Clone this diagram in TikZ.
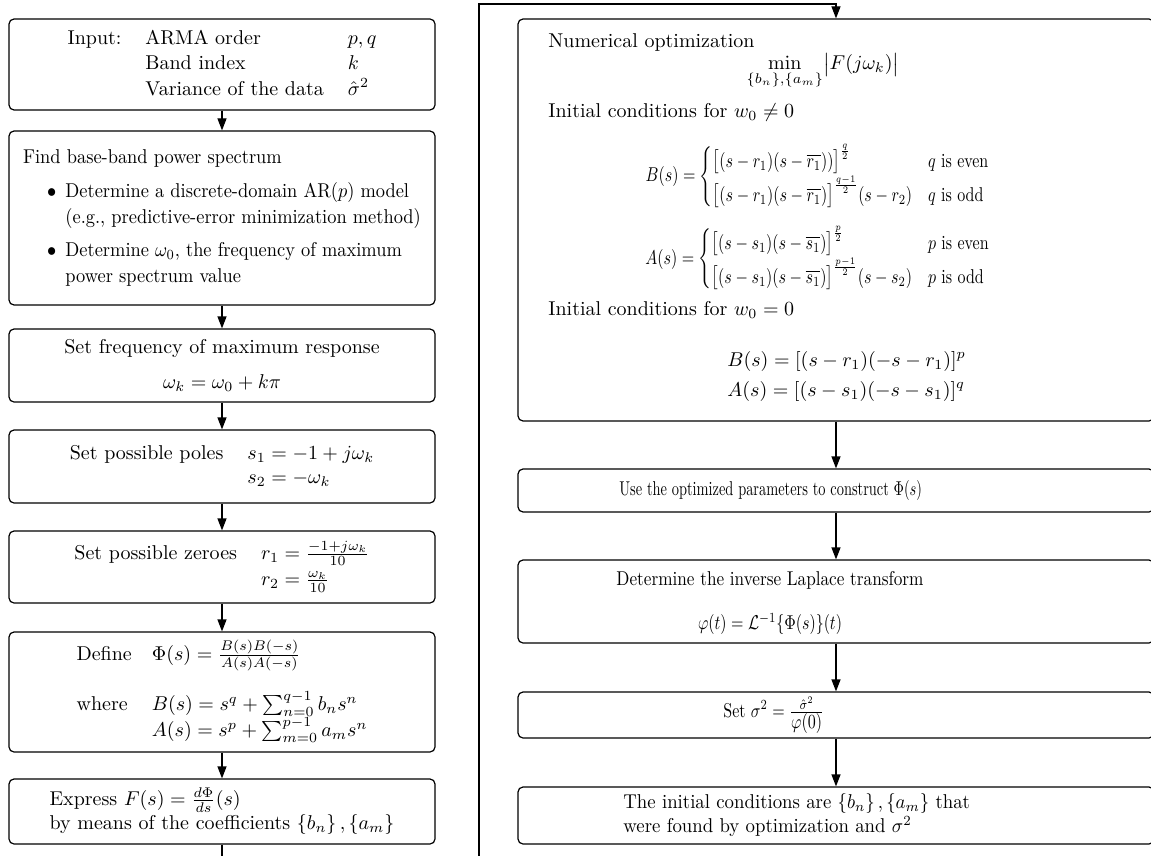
\documentclass[tikz,border=0pt]{standalone}
\usepackage{amsmath,amssymb}
\usepackage{graphicx}
\usetikzlibrary{arrows.meta,positioning,calc}
\newcommand{\squeezed}[2][0.8]{\scalebox{#1}[1]{#2}}

\begin{document}
\begin{tikzpicture}[x=0.5pt,y=-0.5pt,
    stage/.style={draw,rounded corners=2.5pt,line width=0.6pt,inner sep=0pt,
      align=center},
    lstage/.style={stage,minimum width=213pt},
    rstage/.style={stage,minimum width=318pt},
    txt/.style={inner sep=0pt},
    flow/.style={-{Triangle[length=6pt,width=4.5pt]},line width=0.6pt}
  ]
  \useasboundingbox (0,0) rectangle (1151,856);

  % left column
  \node[lstage,minimum height=45.5pt] (input) at (222,64.5) {%
    {\renewcommand{\arraystretch}{1.06}%
    \begin{tabular}{@{}lll@{}}
      Input: & ARMA order & $p,q$\\
             & Band index & $k$\\
             & Variance of the data & $\hat{\sigma}^2$
    \end{tabular}}};
  \node[lstage,minimum height=87pt] (spectrum) at (222,218) {%
    \squeezed[0.92]{\renewcommand{\arraystretch}{1.08}%
    \begin{tabular}{@{}l@{\hspace{5pt}}l@{}}
      \multicolumn{2}{@{}l@{}}{Find base-band power spectrum}\\[4pt]
      \hspace{13pt}$\bullet$ & Determine a discrete-domain AR$(p)$ model\\
       & (e.g., predictive-error minimization method)\\[3.5pt]
      \hspace{13pt}$\bullet$ & Determine $\omega_0$, the frequency of maximum\\
       & power spectrum value
    \end{tabular}}};
  \node[lstage,minimum height=36.5pt] (peak) at (222,365.5)
    {Set frequency of maximum response\\[5.5pt] $\omega_k=\omega_0+k\pi$};
  \node[lstage,minimum height=36.5pt] (poles) at (222,466.5) {%
    \begin{tabular}{@{}l@{\hspace{12pt}}l@{}}
      Set possible poles & $s_1=-1+j\omega_k$\\
       & $s_2=-\omega_k$
    \end{tabular}};
  \node[lstage,minimum height=36pt] (zeroes) at (222,567) {%
    {\renewcommand{\arraystretch}{1.1}%
    \begin{tabular}{@{}l@{\hspace{12pt}}l@{}}
      Set possible zeroes & $r_1=\frac{-1+j\omega_k}{10}$\\
       & $r_2=\frac{\omega_k}{10}$
    \end{tabular}}};
  \node[lstage,minimum height=60pt] (define) at (222,692) {%
    \begin{tabular}{@{}l@{\hspace{10pt}}l@{}}
      Define & $\Phi(s)=\frac{B(s)B(-s)}{A(s)A(-s)}$\\[12pt]
      where & $B(s)=s^q+\sum_{n=0}^{q-1}b_n s^n$\\
       & $A(s)=s^p+\sum_{m=0}^{p-1}a_m s^n$
    \end{tabular}};
  \node[lstage,minimum height=32.5pt,align=left] (express) at (222,811.5)
    {Express $F(s)=\frac{d\Phi}{ds}(s)$\\
     by means of the coefficients $\{b_n\}\,,\{a_m\}$};

  \foreach \a/\b in {input/spectrum,spectrum/peak,peak/poles,poles/zeroes,
      zeroes/define,define/express}
    \draw[flow] (\a) -- (\b);

  % right column
  \node[rstage,minimum height=201pt] (opt) at (836,220) {};
  \node[txt,anchor=base west] (optTitle) at (548,48)
    {Numerical optimization};
  \node[txt,anchor=base] (optMin) at (823,70)
    {$\displaystyle\min_{\{b_n\},\{a_m\}}\bigl|F(j\omega_k)\bigr|$};
  \node[txt,anchor=base west] (condA) at (548,118)
    {Initial conditions for $w_0\neq0$};
  \node[txt] (caseB) at (818,177) {\squeezed{$\displaystyle B(s)=\begin{cases}
      \bigl[(s-r_1)(s-\overline{r_1}))\bigr]^{\frac{q}{2}} & q\text{ is even}\\
      \bigl[(s-r_1)(s-\overline{r_1})\bigr]^{\frac{q-1}{2}}(s-r_2) & q\text{ is odd}
    \end{cases}$}};
  \node[txt] (caseA) at (818,259) {\squeezed{$\displaystyle A(s)=\begin{cases}
      \bigl[(s-s_1)(s-\overline{s_1})\bigr]^{\frac{p}{2}} & p\text{ is even}\\
      \bigl[(s-s_1)(s-\overline{s_1})\bigr]^{\frac{p-1}{2}}(s-s_2) & p\text{ is odd}
    \end{cases}$}};
  \node[txt,anchor=base west] (condB) at (548,315)
    {Initial conditions for $w_0=0$};
  \node[txt,anchor=base west] (zeroB) at (727,366)
    {$B(s)=[(s-r_1)(-s-r_1)]^p$};
  \node[txt,anchor=base west] (zeroA) at (727,396)
    {$A(s)=[(s-s_1)(-s-s_1)]^q$};

  \node[rstage,minimum height=21.5pt] (build) at (836,490.5) {};
  \node[txt,anchor=west] (buildText) at (619,490.5)
    {\squeezed[0.72]{Use the optimized parameters to construct $\Phi(s)$}};
  \node[rstage,minimum height=41.5pt] (laplace) at (836,601.5) {};
  \node[txt] (laplaceText) at (770,603)
    {\begin{tabular}{@{}c@{}}
      \squeezed[0.86]{Determine the inverse Laplace transform}\\[10pt]
      \squeezed{$\varphi(t)=\mathcal{L}^{-1}\{\Phi(s)\}(t)$}
    \end{tabular}};
  \node[rstage,minimum height=23pt] (scale) at (836,715) {};
  \node[txt,anchor=west] (scaleText) at (723,715)
    {\squeezed{Set $\sigma^2=\frac{\scriptstyle\hat{\sigma}^2}{\textstyle\varphi(0)}$}};
  \node[rstage,minimum height=28.5pt] (result) at (836,815.5) {};
  \node[txt,anchor=west] (resultText) at (623,815.5)
    {\squeezed[0.94]{\begin{tabular}{@{}l@{}}
      The initial conditions are $\{b_n\}\,,\{a_m\}$ that\\
      were found by optimization and $\sigma^2$
    \end{tabular}}};

  \foreach \a/\b in {opt/build,build/laplace,laplace/scale,scale/result}
    \draw[flow] (\a) -- (\b);

  % feedback from the bottom of the left column to the top of the right one
  \coordinate (dropA) at (479,880);
  \coordinate (riseA) at (836,4);
  \draw[flow] (express.south) |- (dropA) |- (riseA) -- (opt.north);
\end{tikzpicture}
\end{document}
